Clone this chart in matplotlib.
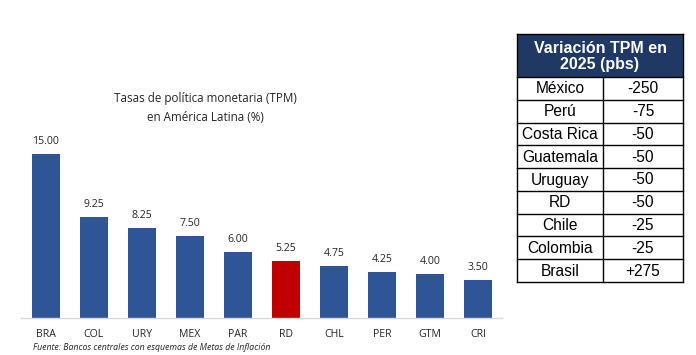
import matplotlib
matplotlib.use("Agg")
import matplotlib.pyplot as plt
from matplotlib.patches import Rectangle

# ---- data ----
countries = ["BRA", "COL", "URY", "MEX", "PAR", "RD", "CHL", "PER", "GTM", "CRI"]
rates = [15.00, 9.25, 8.25, 7.50, 6.00, 5.25, 4.75, 4.25, 4.00, 3.50]
highlight = "RD"

table_title = "Variación TPM en\n2025 (pbs)"
table_countries = ["México", "Perú", "Costa Rica", "Guatemala", "Uruguay", "RD",
                   "Chile", "Colombia", "Brasil"]
table_changes = ["-250", "-75", "-50", "-50", "-50", "-50", "-25", "-25", "+275"]

chart_title = "Tasas de política monetaria (TPM)\nen América Latina (%)"
source = "Fuente: Bancos centrales con esquemas de Metas de Inflación"

W, H = 696, 355
fig = plt.figure(figsize=(W / 100, H / 100), dpi=100)
fig.patch.set_facecolor("white")

FONT = ["Open Sans", "DejaVu Sans"]

# ---- bar chart ----
base_y = 318
top_y = 137.6
ax = fig.add_axes([21 / W, (H - base_y) / H, (502 - 21) / W, (base_y - top_y) / H])
colors = ["#C00000" if c == highlight else "#2F5597" for c in countries]
x = list(range(len(countries)))
ax.bar(x, rates, width=0.58, color=colors, zorder=2)
ax.set_xlim(-0.52, 9.5)
ax.set_ylim(0, 16.5)
for s in ["top", "right", "left"]:
    ax.spines[s].set_visible(False)
ax.spines["bottom"].set_color("#D9D9D9")
ax.spines["bottom"].set_linewidth(1.0)
ax.set_yticks([])
ax.set_xticks(x)
ax.set_xticklabels(countries, fontfamily=FONT, fontsize=7.6, color="#262626")
ax.tick_params(axis="x", length=0, pad=8)
for xi, v in zip(x, rates):
    ax.annotate(f"{v:.2f}", (xi, v), xytext=(0, 5), textcoords="offset points",
                ha="center", va="bottom", fontsize=7.6, fontfamily=FONT, color="#262626")

fig.text(205 / W, 1 - 108 / H, chart_title, ha="center", va="center",
         fontsize=8.4, fontfamily=FONT, color="#262626", linespacing=1.55)
fig.text(33 / W, 1 - 347 / H, source, ha="left", va="center", fontsize=6.3,
         fontstyle="italic", fontfamily=FONT, color="#262626")

# ---- table ----
tax = fig.add_axes([0, 0, 1, 1])
tax.set_xlim(0, W)
tax.set_ylim(H, 0)
tax.axis("off")
tax.patch.set_alpha(0)

TFONT = ["Liberation Sans", "DejaVu Sans"]
left, mid, right = 517, 603, 683
head_top, head_bot = 34, 77
row_h = (282 - head_bot) / len(table_countries)

tax.add_patch(Rectangle((left, head_top), right - left, head_bot - head_top,
                        facecolor="#203864", edgecolor="none"))
tax.text((left + right) / 2, (head_top + head_bot) / 2 + 1, table_title, ha="center",
         va="center", color="white", fontsize=11.5, fontweight="bold",
         fontfamily=TFONT, linespacing=1.15)

for i, (c, v) in enumerate(zip(table_countries, table_changes)):
    yc = head_bot + row_h * (i + 0.5)
    tax.text((left + mid) / 2, yc + 0.5, c, ha="center", va="center", fontsize=11.2,
             fontfamily=TFONT, color="black")
    tax.text((mid + right) / 2, yc + 0.5, v, ha="center", va="center", fontsize=11.2,
             fontfamily=TFONT, color="black")

bottom = head_bot + row_h * len(table_countries)
lw = 1.0
for i in range(len(table_countries) + 1):
    y = head_bot + row_h * i
    tax.plot([left, right], [y, y], color="black", lw=lw)
tax.plot([left, right], [head_top, head_top], color="black", lw=lw)
tax.plot([left, left], [head_top, bottom], color="black", lw=lw)
tax.plot([right, right], [head_top, bottom], color="black", lw=lw)
tax.plot([mid, mid], [head_bot, bottom], color="black", lw=lw)

fig.savefig("out.png", dpi=100, facecolor="white")
